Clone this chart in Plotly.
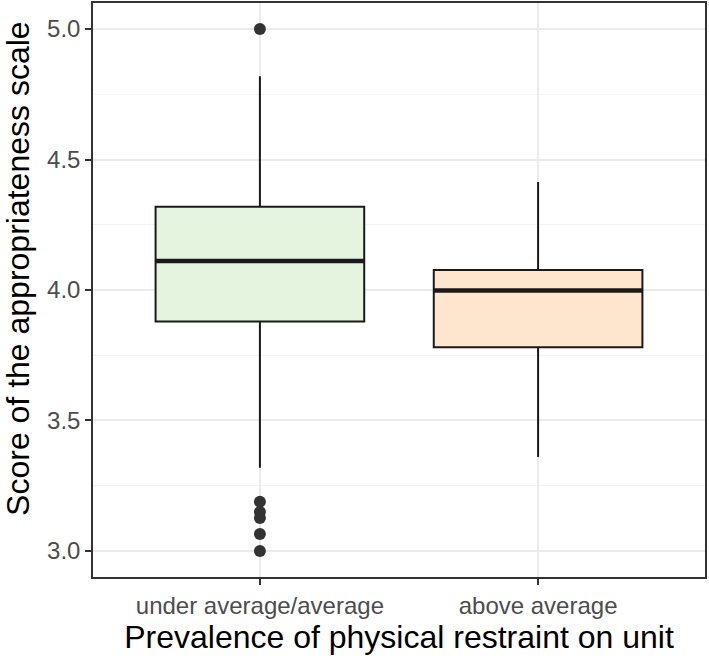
import plotly.graph_objects as go

categories = ["under average/average", "above average"]
positions = [1, 2]
q1 = [3.879, 3.781]
median = [4.111, 3.998]
q3 = [4.319, 4.077]
lower_whisker = [3.319, 3.36]
upper_whisker = [4.819, 4.414]
outliers = [[5.0, 3.188, 3.149, 3.126, 3.065, 3.0], []]
fills = ["#e5f4df", "#fee6ce"]
box_width = 0.75

fig = go.Figure()
for i, cat in enumerate(categories):
    fig.add_trace(go.Box(
        x=[positions[i]], q1=[q1[i]], median=[median[i]], q3=[q3[i]],
        lowerfence=[lower_whisker[i]], upperfence=[upper_whisker[i]],
        width=box_width, fillcolor=fills[i],
        line=dict(color="#1a1a1a", width=2), whiskerwidth=0,
        name=cat, showlegend=False, hoverinfo="skip",
    ))
    if outliers[i]:
        fig.add_trace(go.Scatter(
            x=[positions[i]] * len(outliers[i]), y=outliers[i], mode="markers",
            marker=dict(color="#333333", size=12), showlegend=False,
        ))
    fig.add_shape(type="line", xref="x", yref="y",
                  x0=positions[i] - box_width / 2, x1=positions[i] + box_width / 2,
                  y0=median[i], y1=median[i],
                  line=dict(color="#1a1a1a", width=4.5))

font_family = "Liberation Sans, Arial, sans-serif"
fig.update_layout(
    width=709, height=656,
    margin=dict(l=93, r=4, t=3, b=79),
    plot_bgcolor="white", paper_bgcolor="white",
    font=dict(family=font_family),
)
fig.add_annotation(
    text="Score of the appropriateness scale", textangle=-90,
    xref="paper", yref="paper", x=-0.123, y=0.538,
    xanchor="center", yanchor="middle", showarrow=False,
    font=dict(size=32, color="black"),
)
fig.update_xaxes(
    range=[0.4, 2.6], tickvals=positions, ticktext=categories,
    showgrid=True, gridcolor="#ebebeb", gridwidth=1.5,
    showline=True, mirror=True, linecolor="#333333", linewidth=1.5,
    ticks="outside", ticklen=6, tickwidth=1.5, tickcolor="#333333",
    tickfont=dict(size=24, color="#4d4d4d"),
    title=dict(text="Prevalence of physical restraint on unit",
               font=dict(size=32, color="black"), standoff=0),
    zeroline=False, automargin=False,
)
fig.update_yaxes(
    range=[2.9, 5.1], tickvals=[3.0, 3.5, 4.0, 4.5, 5.0],
    ticktext=["3.0", "3.5", "4.0", "4.5", "5.0"],
    showgrid=True, gridcolor="#ebebeb", gridwidth=1.5,
    minor=dict(tickvals=[3.25, 3.75, 4.25, 4.75], showgrid=True,
               gridcolor="#f2f2f2", gridwidth=1, ticks=""),
    showline=True, mirror=True, linecolor="#333333", linewidth=1.5,
    ticks="outside", ticklen=6, tickwidth=1.5, tickcolor="#333333",
    tickfont=dict(size=24, color="#4d4d4d"),
    zeroline=False, automargin=False,
)
fig.write_html("out.html", config={"displayModeBar": False},
               post_script="document.body.style.margin='0';document.body.style.padding='0';")
